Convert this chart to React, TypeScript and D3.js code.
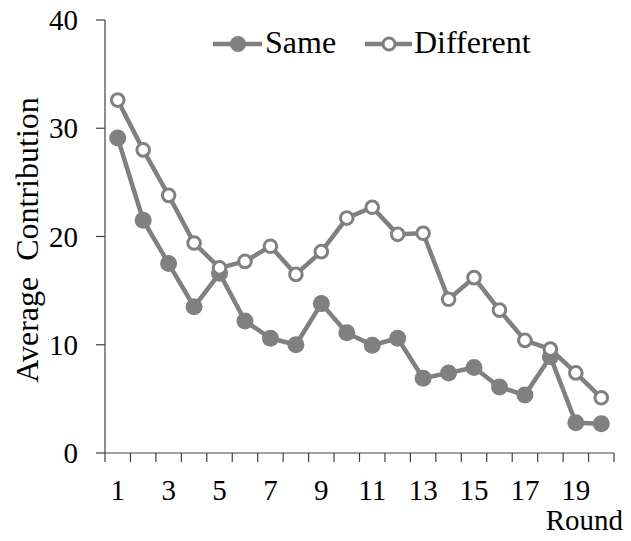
import * as d3 from 'd3'

const rounds = d3.range(1, 21)
const sameValues = [29.1, 21.5, 17.5, 13.5, 16.6, 12.2, 10.6, 10.0, 13.8, 11.1, 9.95, 10.6, 6.9, 7.4, 7.9, 6.1, 5.35, 8.9, 2.8, 2.7]
const differentValues = [32.6, 28.0, 23.8, 19.4, 17.1, 17.7, 19.1, 16.5, 18.6, 21.7, 22.7, 20.2, 20.3, 14.2, 16.2, 13.2, 10.4, 9.6, 7.4, 5.1]
const yTicks = [0, 10, 20, 30, 40]
const xTickLabels = [1, 3, 5, 7, 9, 11, 13, 15, 17, 19]

const W = 631
const H = 541
const gray = '#808080'
const axisColor = '#404040'
const font = '"Liberation Serif", "Times New Roman", serif'

export default function App() {
  const x = d3.scaleBand<number>().domain(rounds).range([105, 614]).padding(0)
  const y = d3.scaleLinear().domain([0, 40]).range([453, 20])
  const cx = (r: number) => (x(r) as number) + x.bandwidth() / 2

  const line = d3.line<number>()
    .x((_, i) => cx(rounds[i]))
    .y(d => y(d))

  const boundaries = rounds.map(r => x(r) as number).concat([x.range()[1]])

  return (
    <svg width={W} height={H} style={{ position: 'absolute', left: 0, top: 0, background: '#fff', fontFamily: font }}>
      {/* axes */}
      <line x1={105} x2={105} y1={y(40)} y2={y(0)} stroke={axisColor} strokeWidth={1.2} />
      <line x1={105} x2={614} y1={y(0)} y2={y(0)} stroke={axisColor} strokeWidth={1.2} />
      {yTicks.map(t => (
        <g key={t}>
          <line x1={96} x2={105} y1={y(t)} y2={y(t)} stroke={axisColor} strokeWidth={1.2} />
          <text x={78} y={y(t)} dy="0.35em" textAnchor="end" fontSize={29} fill="#000">{t}</text>
        </g>
      ))}
      {boundaries.map((b, i) => (
        <line key={i} x1={b} x2={b} y1={y(0)} y2={y(0) + 9} stroke={axisColor} strokeWidth={1.2} />
      ))}
      {xTickLabels.map(r => (
        <text key={r} x={cx(r)} y={500} textAnchor="middle" fontSize={29} fill="#000">{r}</text>
      ))}
      <text x={623} y={530} textAnchor="end" fontSize={29} fill="#000">Round</text>
      <text transform="translate(38,240) rotate(-90)" textAnchor="middle" fontSize={32} fill="#000" style={{ whiteSpace: 'pre' }}>Average  Contribution</text>

      {/* Same series */}
      <path d={line(sameValues) || ''} fill="none" stroke={gray} strokeWidth={4.5} strokeLinejoin="round" />
      {sameValues.map((v, i) => (
        <circle key={i} cx={cx(rounds[i])} cy={y(v)} r={8.5} fill={gray} />
      ))}

      {/* Different series */}
      <path d={line(differentValues) || ''} fill="none" stroke={gray} strokeWidth={4.5} strokeLinejoin="round" />
      {differentValues.map((v, i) => (
        <circle key={i} cx={cx(rounds[i])} cy={y(v)} r={6.3} fill="#fff" stroke={gray} strokeWidth={3} />
      ))}

      {/* legend */}
      <line x1={213} x2={262} y1={44} y2={44} stroke={gray} strokeWidth={4.5} />
      <circle cx={238} cy={44} r={8} fill={gray} />
      <text x={265} y={53} fontSize={32} fill="#000">Same</text>
      <line x1={365} x2={412} y1={44} y2={44} stroke={gray} strokeWidth={4.5} />
      <circle cx={389} cy={44} r={6} fill="#fff" stroke={gray} strokeWidth={3} />
      <text x={414} y={53} fontSize={32} fill="#000">Different</text>
    </svg>
  )
}
